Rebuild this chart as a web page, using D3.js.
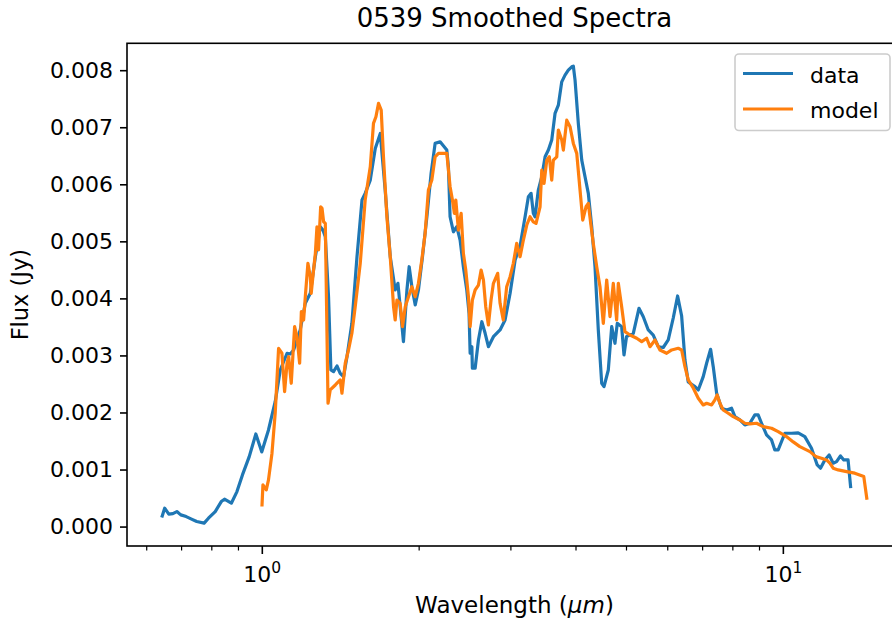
<!DOCTYPE html>
<html>
<head>
<meta charset="utf-8">
<script src="https://cdn.jsdelivr.net/npm/d3@7"></script>
<style>
  html, body { margin: 0; padding: 0; background: #fff; overflow: hidden; }
  svg { display: block; font-family: "DejaVu Sans", sans-serif; }
</style>
</head>
<body>
<svg id="chart" width="892" height="622"></svg>
<script>
// ---------------- data (wavelength in µm, flux in Jy) ----------------
const dataWavelength = [
  0.644,0.651,0.663,0.675,0.687,0.699,0.716,0.733,0.750,0.775,
  0.790,0.814,0.836,0.848,0.874,0.896,0.918,0.946,0.974,1.000,
  1.016,1.030,1.061,1.085,1.118,1.134,1.151,1.185,1.212,1.239,
  1.267,1.295,1.310,1.324,1.343,1.357,1.373,1.394,1.414,1.435,
  1.457,1.489,1.523,1.557,1.579,1.615,1.651,1.688,1.725,1.764,
  1.803,1.825,1.843,1.870,1.899,1.918,1.941,1.970,1.998,2.034,
  2.074,2.113,2.151,2.199,2.265,2.281,2.298,2.332,2.367,2.402,
  2.437,2.474,2.499,2.511,2.530,2.536,2.567,2.605,2.644,2.683,
  2.722,2.783,2.866,2.930,2.996,3.063,3.131,3.201,3.248,3.287,
  3.320,3.345,3.394,3.446,3.497,3.548,3.601,3.654,3.708,3.764,
  3.819,3.875,3.934,3.962,3.992,4.050,4.112,4.172,4.233,4.297,
  4.360,4.424,4.491,4.537,4.624,4.694,4.762,4.811,4.905,4.956,
  5.011,5.164,5.295,5.397,5.517,5.640,5.766,5.895,6.026,6.161,
  6.281,6.394,6.488,6.583,6.781,6.881,7.034,7.140,7.267,7.352,
  7.463,7.629,7.800,7.973,8.090,8.270,8.455,8.644,8.837,8.966,
  9.102,9.305,9.513,9.652,9.795,10.09,10.39,10.70,11.02,11.35,
  11.64,11.81,12.04,12.27,12.49,12.68,12.90,13.09,13.34,13.49
];
const dataFlux = [
  0.000187,0.000322,0.000217,0.000228,0.000263,0.000205,0.000175,0.000130,0.000088,0.000060,
  0.000147,0.000263,0.000438,0.000480,0.000410,0.000613,0.000906,0.001226,0.001624,0.001309,
  0.001519,0.001694,0.002190,0.002745,0.003038,0.003026,0.003096,0.003446,0.003914,0.004089,
  0.004730,0.005256,0.005198,0.005081,0.004029,0.002745,0.002716,0.002815,0.002687,0.002628,
  0.002978,0.003563,0.004730,0.005724,0.005841,0.006074,0.006629,0.006892,0.005899,0.004730,
  0.004147,0.004264,0.003854,0.003241,0.004147,0.004555,0.004205,0.003884,0.004147,0.004730,
  0.005431,0.006191,0.006717,0.006745,0.006600,0.006307,0.005431,0.005168,0.005256,0.005023,
  0.004555,0.004147,0.003739,0.003038,0.003153,0.002775,0.002775,0.003271,0.003591,0.003388,
  0.003153,0.003329,0.003446,0.003621,0.004089,0.004672,0.004920,0.005431,0.005781,0.005841,
  0.005491,0.005431,0.005899,0.006132,0.006482,0.006600,0.006775,0.007242,0.007388,0.007796,
  0.007913,0.008001,0.008059,0.008071,0.007826,0.007067,0.006424,0.006132,0.005841,0.005256,
  0.004555,0.003446,0.002512,0.002453,0.002745,0.003504,0.003213,0.003563,0.003504,0.003008,
  0.003329,0.003388,0.003826,0.003679,0.003446,0.003358,0.003153,0.003139,0.003271,0.003656,
  0.004042,0.003691,0.002920,0.002535,0.002453,0.002395,0.002628,0.002863,0.003108,0.002803,
  0.002337,0.002074,0.002044,0.002074,0.001927,0.001869,0.001782,0.001811,0.001957,0.001957,
  0.001811,0.001607,0.001519,0.001344,0.001344,0.001636,0.001636,0.001642,0.001577,0.001373,
  0.001081,0.001023,0.001168,0.001256,0.001111,0.001139,0.001239,0.001168,0.001168,0.000701
];
const modelWavelength = [
  1.001,1.005,1.020,1.030,1.046,1.061,1.077,1.093,1.106,1.118,
  1.126,1.139,1.156,1.168,1.182,1.191,1.203,1.212,1.226,1.239,
  1.244,1.257,1.267,1.276,1.285,1.297,1.305,1.314,1.324,1.340,
  1.353,1.384,1.414,1.425,1.446,1.467,1.489,1.511,1.545,1.579,
  1.615,1.638,1.656,1.675,1.695,1.712,1.738,1.764,1.790,1.803,
  1.817,1.843,1.862,1.885,1.912,1.941,1.970,1.998,2.028,2.058,
  2.088,2.120,2.151,2.183,2.231,2.265,2.298,2.322,2.342,2.357,
  2.384,2.413,2.437,2.463,2.492,2.511,2.536,2.567,2.605,2.636,
  2.663,2.690,2.722,2.754,2.783,2.836,2.866,2.907,2.951,2.996,
  3.039,3.085,3.131,3.177,3.225,3.272,3.320,3.360,3.420,3.446,
  3.481,3.523,3.563,3.601,3.627,3.682,3.708,3.764,3.791,3.848,
  3.905,3.962,4.022,4.081,4.130,4.190,4.233,4.278,4.327,4.393,
  4.457,4.523,4.591,4.659,4.727,4.798,4.833,4.905,4.977,5.089,
  5.242,5.359,5.478,5.559,5.683,5.809,5.984,6.118,6.299,6.394,
  6.488,6.583,6.730,6.881,7.034,7.140,7.300,7.407,7.482,7.572,
  7.683,7.855,8.030,8.270,8.455,8.644,8.903,9.167,9.513,9.795,
  10.16,10.47,10.78,11.27,11.57,11.86,12.13,12.31,12.49,12.77,
  13.25,13.74,14.30,14.49
];
const modelFlux = [
  0.000380,0.000731,0.000643,0.000818,0.001286,0.001987,0.003125,0.003038,0.002365,0.002863,
  0.002978,0.002512,0.003504,0.003329,0.002863,0.003767,0.003621,0.004029,0.004614,0.004380,
  0.004089,0.004497,0.004790,0.005256,0.004848,0.005606,0.005578,0.005343,0.005315,0.002162,
  0.002395,0.002482,0.002570,0.002337,0.002863,0.003096,0.003388,0.003854,0.004614,0.005724,
  0.006307,0.007067,0.007183,0.007418,0.007300,0.006482,0.005431,0.004730,0.003854,0.003621,
  0.003972,0.003914,0.003504,0.003854,0.004029,0.004205,0.004029,0.004264,0.004672,0.005140,
  0.005899,0.006074,0.006482,0.006542,0.006542,0.006542,0.005957,0.005724,0.005491,0.005724,
  0.005198,0.005491,0.004790,0.004497,0.004029,0.003504,0.003972,0.004147,0.004234,0.004497,
  0.004322,0.003854,0.003534,0.003972,0.004264,0.004439,0.003914,0.003621,0.004205,0.004380,
  0.004614,0.004965,0.004730,0.005023,0.005286,0.005431,0.005343,0.005315,0.005606,0.006249,
  0.006016,0.006424,0.006482,0.006074,0.006424,0.006482,0.006950,0.006775,0.006600,0.007125,
  0.007008,0.006717,0.006542,0.005899,0.005373,0.005606,0.005666,0.005315,0.004965,0.004555,
  0.004205,0.003563,0.004322,0.003679,0.004264,0.003621,0.004264,0.003854,0.003416,0.003358,
  0.003301,0.003241,0.003301,0.003153,0.003271,0.003096,0.003038,0.003096,0.003125,0.003096,
  0.002803,0.002570,0.002430,0.002249,0.002132,0.002162,0.002132,0.002220,0.002307,0.002162,
  0.002044,0.001987,0.001927,0.001869,0.001811,0.001799,0.001811,0.001752,0.001724,0.001664,
  0.001577,0.001484,0.001402,0.001314,0.001226,0.001198,0.001168,0.001111,0.001023,0.000993,
  0.000964,0.000936,0.000876,0.000498
];
const yTickValues = [0, 0.001, 0.002, 0.003, 0.004, 0.005, 0.006, 0.007, 0.008];
const xMajorTicks = [1, 10];
const xMinorTicks = [0.6, 0.7, 0.8, 0.9, 2, 3, 4, 5, 6, 7, 8, 9];
const seriesNames = ["data", "model"];
const seriesColors = ["#1f77b4", "#ff7f0e"];
const titleText = "0539 Smoothed Spectra";

// ---------------- layout ----------------
const plot = { left: 127, top: 43.3, right: 902, bottom: 546 };
const svg = d3.select("#chart");

// matplotlib-like 5% margins (log space for x)
const allW = dataWavelength.concat(modelWavelength);
const allF = dataFlux.concat(modelFlux);
const lx0 = Math.log10(d3.min(allW)), lx1 = Math.log10(d3.max(allW));
const px = 0.05 * (lx1 - lx0);
const fy0 = d3.min(allF), fy1 = d3.max(allF);
const py = 0.05 * (fy1 - fy0);

const x = d3.scaleLog().domain([Math.pow(10, lx0 - px), Math.pow(10, lx1 + px)]).range([plot.left, plot.right]);
const y = d3.scaleLinear().domain([fy0 - py, fy1 + py]).range([plot.bottom, plot.top]);

// clip
svg.append("defs").append("clipPath").attr("id", "clip")
  .append("rect").attr("x", plot.left).attr("y", plot.top)
  .attr("width", plot.right - plot.left).attr("height", plot.bottom - plot.top);

// lines
const line = d3.line().x(d => x(d[0])).y(d => y(d[1]));
const series = [
  d3.zip(dataWavelength, dataFlux),
  d3.zip(modelWavelength, modelFlux)
];
const g = svg.append("g").attr("clip-path", "url(#clip)");
series.forEach((s, i) => {
  g.append("path").datum(s).attr("d", line)
    .attr("fill", "none").attr("stroke", seriesColors[i])
    .attr("stroke-width", 3.2).attr("stroke-linejoin", "round").attr("stroke-linecap", "square");
});

// y axis
const yAxis = d3.axisLeft(y).tickValues(yTickValues).tickFormat(d3.format(".3f"))
  .tickSize(7).tickPadding(7);
const gy = svg.append("g").attr("transform", `translate(${plot.left},0)`).call(yAxis);
gy.select(".domain").remove();
gy.selectAll(".tick line").attr("stroke", "#000").attr("stroke-width", 1.6);
gy.selectAll(".tick text").attr("font-size", 22).attr("fill", "#000")
  .attr("font-family", "DejaVu Sans");

// x axis: minor ticks
const xMinor = d3.axisBottom(x).tickValues(xMinorTicks).tickFormat("").tickSize(4.5);
const gxm = svg.append("g").attr("transform", `translate(0,${plot.bottom})`).call(xMinor);
gxm.select(".domain").remove();
gxm.selectAll(".tick line").attr("stroke", "#000").attr("stroke-width", 1.2);

const xMajor = d3.axisBottom(x).tickValues(xMajorTicks).tickFormat("").tickSize(8);
const gx = svg.append("g").attr("transform", `translate(0,${plot.bottom})`).call(xMajor);
gx.select(".domain").remove();
gx.selectAll(".tick line").attr("stroke", "#000").attr("stroke-width", 1.6);
// major labels as 10^n
gx.selectAll(".tick").each(function(d) {
  const t = d3.select(this).append("text")
    .attr("y", 36).attr("text-anchor", "middle").attr("fill", "#000")
    .attr("font-size", 22).attr("font-family", "DejaVu Sans");
  t.append("tspan").text("10");
  t.append("tspan").attr("font-size", 15.5).attr("dy", -9).text(String(Math.round(Math.log10(d))));
});

// spines
svg.append("rect").attr("x", plot.left).attr("y", plot.top)
  .attr("width", plot.right - plot.left).attr("height", plot.bottom - plot.top)
  .attr("fill", "none").attr("stroke", "#000").attr("stroke-width", 1.6);

// title
svg.append("text").attr("x", (plot.left + plot.right) / 2).attr("y", 27)
  .attr("text-anchor", "middle").attr("font-size", 26).attr("fill", "#000")
  .text(titleText);

// x label
const xl = svg.append("text").attr("x", (plot.left + plot.right) / 2).attr("y", 613)
  .attr("text-anchor", "middle").attr("font-size", 23).attr("fill", "#000");
xl.append("tspan").text("Wavelength (");
xl.append("tspan").attr("font-style", "italic").text("μm");
xl.append("tspan").text(")");

// y label
svg.append("text").attr("transform", `translate(28,${(plot.top + plot.bottom) / 2}) rotate(-90)`)
  .attr("text-anchor", "middle").attr("font-size", 22.5).attr("fill", "#000")
  .text("Flux (Jy)");

// legend
const lg = svg.append("g");
lg.append("rect").attr("x", 735).attr("y", 54).attr("width", 155).attr("height", 76.5)
  .attr("rx", 4).attr("fill", "#fff").attr("fill-opacity", 0.8)
  .attr("stroke", "#cccccc").attr("stroke-width", 1.6);
seriesNames.forEach((n, i) => {
  const yy = 73.5 + i * 35.5;
  lg.append("line").attr("x1", 743).attr("x2", 793).attr("y1", yy).attr("y2", yy)
    .attr("stroke", seriesColors[i]).attr("stroke-width", 3.2);
  lg.append("text").attr("x", 810).attr("y", yy + 9).attr("font-size", 22).attr("fill", "#000").text(n);
});
</script>
</body>
</html>
